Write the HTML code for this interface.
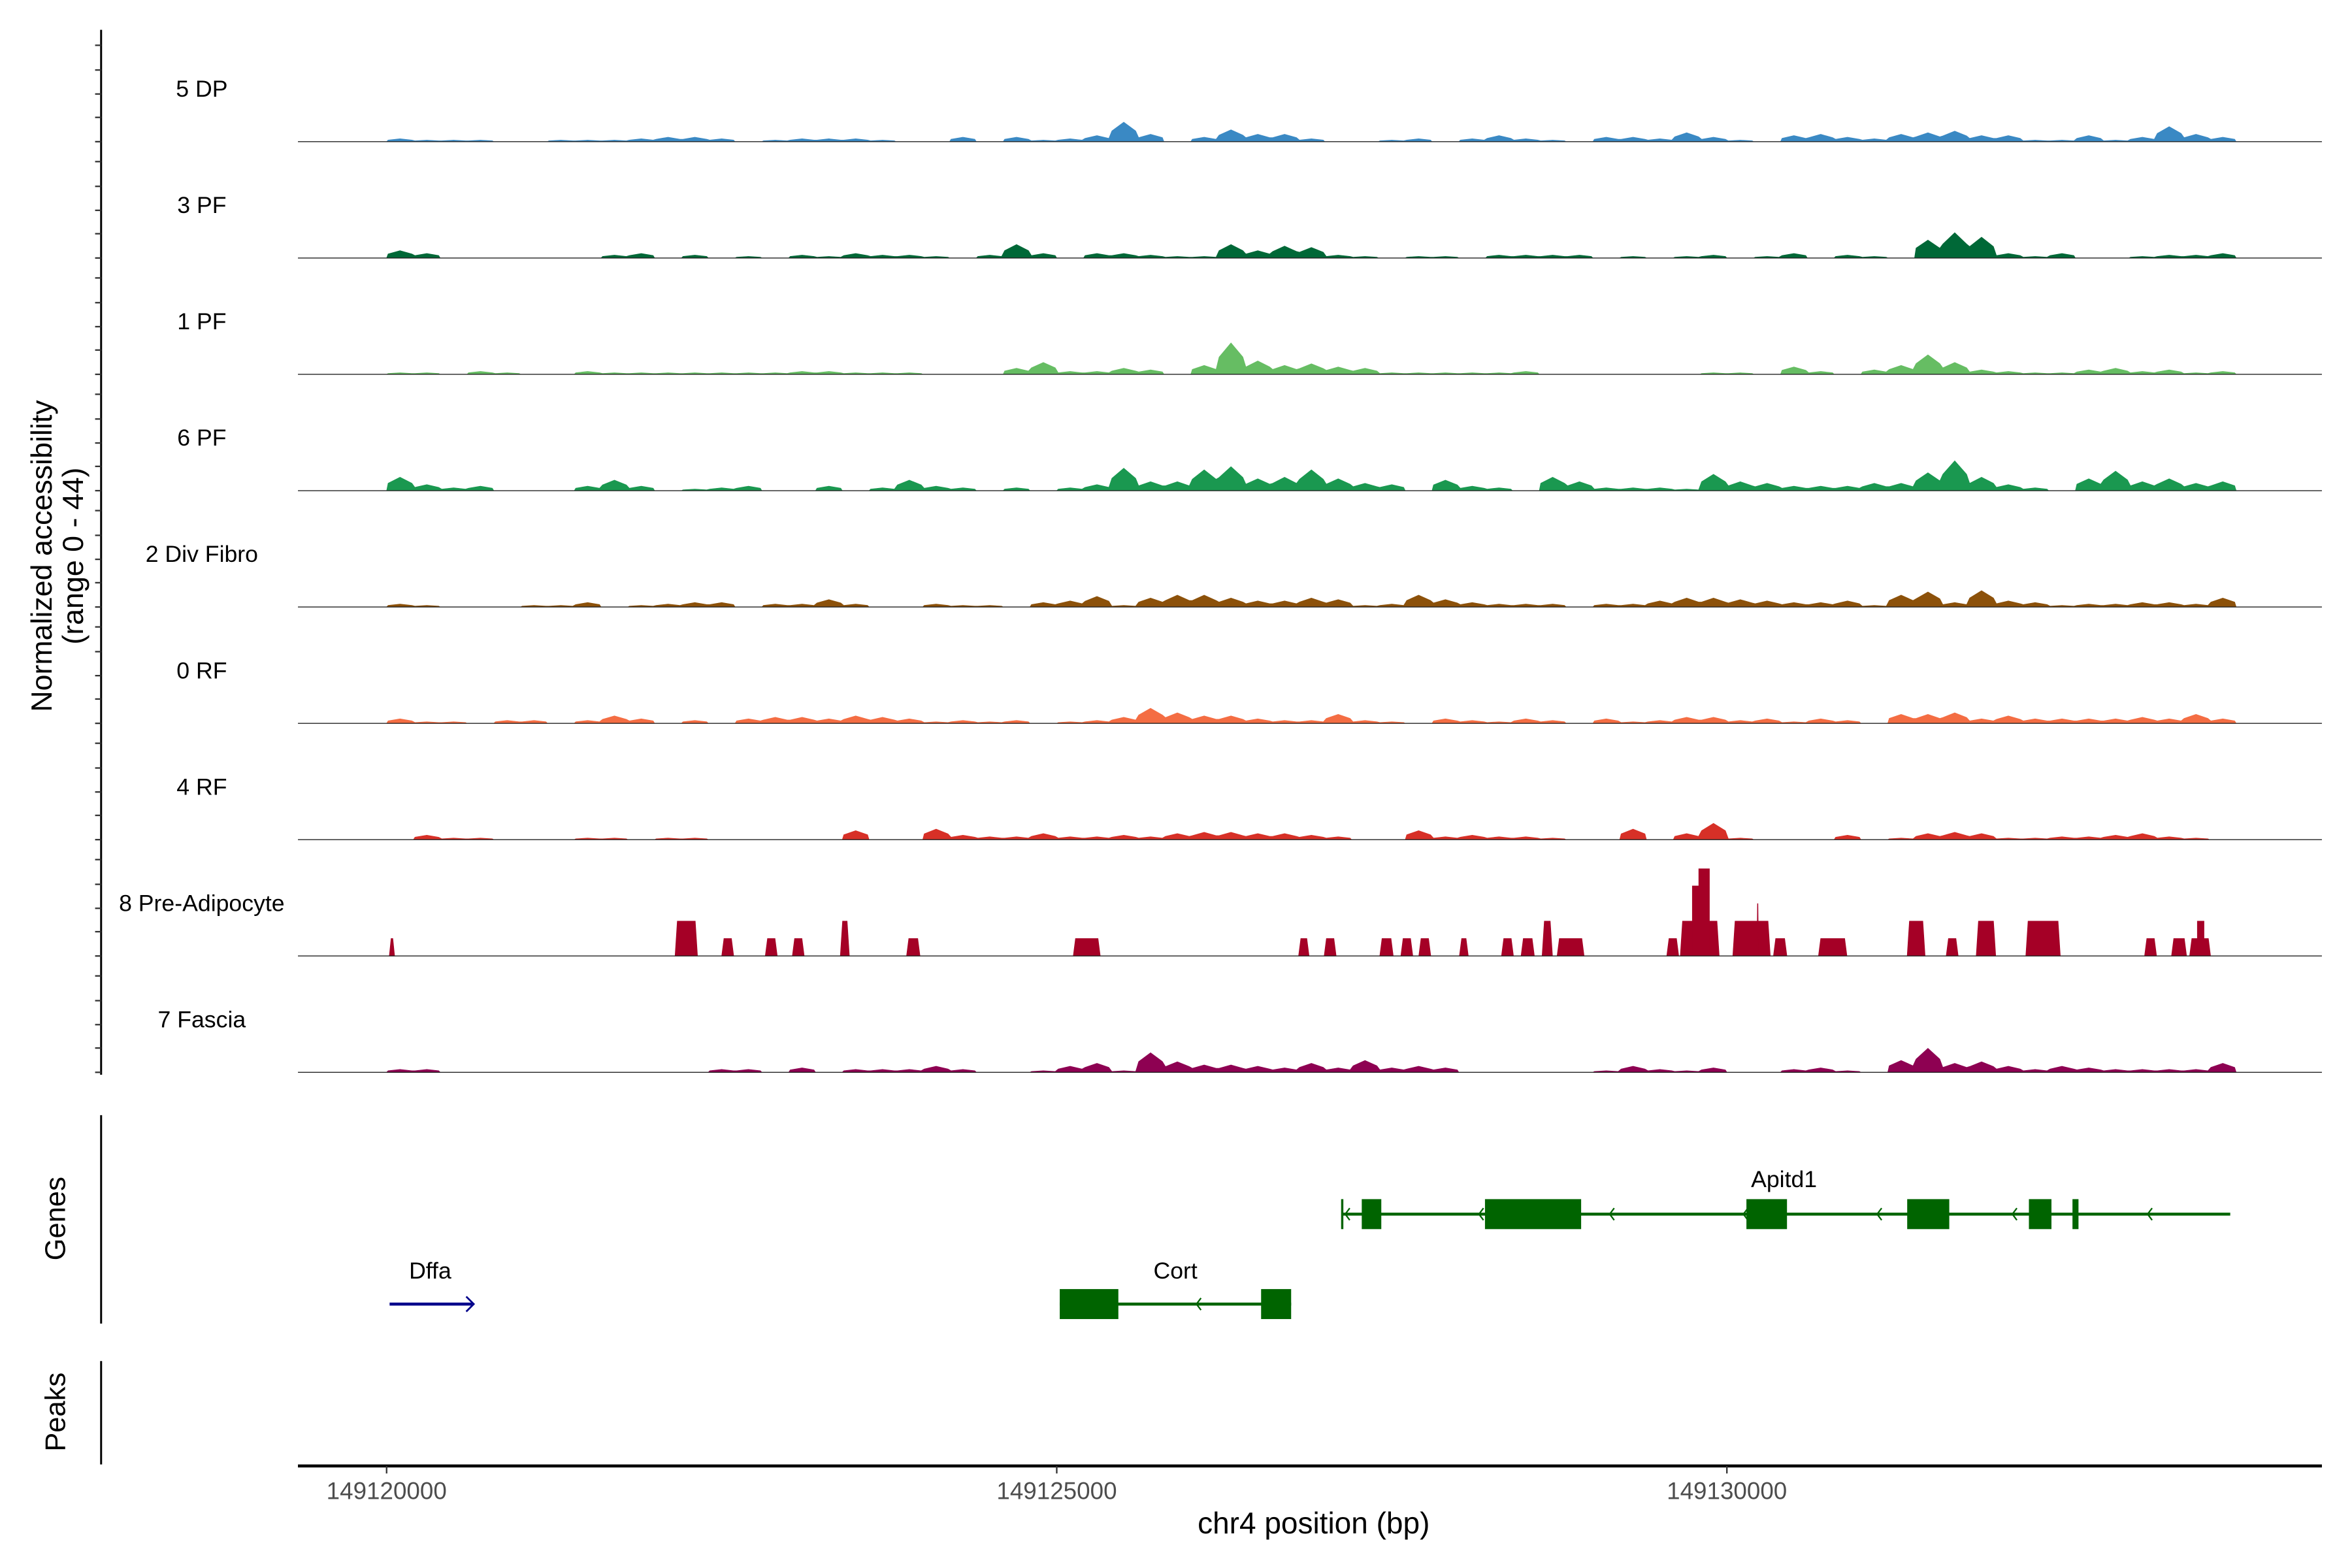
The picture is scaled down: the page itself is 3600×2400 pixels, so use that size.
<!DOCTYPE html>
<html><head><meta charset="utf-8"><style>html,body{margin:0;padding:0;background:#fff}svg{display:block}text{font-family:"Liberation Sans",Arial,sans-serif}</style></head>
<body>
<svg id="chart" xmlns="http://www.w3.org/2000/svg" width="3600" height="2400" viewBox="0 0 1560 1040">
<rect x="0" y="0" width="1560" height="1040" fill="#fff"/>
<g transform="matrix(0.9966,0,0,0.9943,-1.7,0.9)">
<g id="tracks"></g>
<g id="genes"></g>
<g id="axes"></g>
<text transform="translate(36,370) rotate(-90)" text-anchor="middle" font-size="19.5">Normalized accessibility</text>
<text transform="translate(57,370) rotate(-90)" text-anchor="middle" font-size="19.5">(range 0 - 44)</text>
<text transform="translate(45,812) rotate(-90)" text-anchor="middle" font-size="19">Genes</text>
<text transform="translate(45,941) rotate(-90)" text-anchor="middle" font-size="19">Peaks</text>
<text x="876" y="1022" text-anchor="middle" font-size="20">chr4 position (bp)</text>
</g>
</svg>
<script>
const regionStart = 149120000;
const binSize = 200;
const yMax = 44;
const trackNames = ["5 DP","3 PF","1 PF","6 PF","2 Div Fibro","0 RF","4 RF","8 Pre-Adipocyte","7 Fascia"];
const trackColors = ["#3a89c4","#006837","#66bd63","#1a9850","#8c510a","#f46d43","#d73027","#a50026","#8e0152"];
const cov5DP = [1.1,.6,.6,.6,0,0,.6,.6,.6,1.1,1.7,1.7,1.1,0,.6,1.1,1.1,1.1,.6,0,0,1.7,0,1.7,.6,1.1,2.3,7.4,2.8,0,1.7,4.5,2.8,2.8,1.1,0,0,.6,1.1,0,1.1,2.3,1.1,.6,0,1.7,1.7,1.1,3.4,1.7,.6,0,2.3,2.8,1.7,1.1,2.8,3.4,4,2.3,2.3,.6,.6,2.3,.6,1.7,5.7,2.8,1.7];
const cov3PF = [2.8,1.7,0,0,0,0,0,0,1.1,1.7,0,1.1,0,.6,0,1.1,.6,1.7,1.1,1.1,.6,0,1.1,5.1,1.7,0,1.7,1.7,1.1,.6,.6,5.1,2.8,4.5,4,1.1,.6,0,.6,.6,0,1.1,1.1,1.1,1.1,0,.6,0,.6,1.1,0,.6,1.7,0,1.1,.6,0,6.8,9.6,7.9,1.7,.6,1.7,0,0,.6,1.1,1.1,1.7];
const cov1PF = [.6,.6,0,1.1,.6,0,0,1.1,.6,.6,.6,.6,.6,.6,.6,1.1,1.1,.6,.6,.6,0,0,0,2.3,4.5,1.1,1.1,2.3,1.7,0,3.4,11.9,5.1,3.4,4,2.8,2.3,.6,.6,.6,.6,.6,1.1,0,0,0,0,0,0,.6,.6,0,2.8,1.1,0,1.7,3.4,7.4,4.5,1.7,1.1,.6,.6,1.7,2.3,1.1,1.7,.6,1.1];
const cov6PF = [5.1,2.3,1.1,1.7,0,0,0,1.7,4,1.7,0,.6,1.1,1.7,0,0,1.7,0,1.1,4,1.7,1.1,0,1.1,0,1.1,2.3,8.5,3.4,3.4,7.9,9.1,4.5,5.1,7.9,4.5,2.8,2.3,0,4,1.7,1.1,0,5.1,3.4,1.1,1.1,1.1,.6,6.2,3.4,2.8,1.7,1.7,1.7,2.8,2.8,6.8,11.3,5.1,2.3,1.1,0,4.5,7.4,3.4,4.5,2.8,3.4];
const cov2DivFibro = [1.1,.6,0,0,0,.6,.6,1.7,0,.6,1.1,1.7,1.7,0,1.1,1.1,2.8,1.1,0,0,1.1,.6,.6,0,1.7,2.3,4,.6,3.4,4.5,4.5,3.4,2.3,2.3,3.4,2.8,.6,1.1,4.5,2.8,1.7,1.1,1.1,1.1,0,1.1,1.1,2.3,3.4,3.4,2.8,2.3,1.7,1.7,2.3,.6,4.5,5.7,1.7,6.2,2.3,1.7,.6,1.1,1.1,1.7,1.7,1.1,3.4];
const cov0RF = [1.7,.6,.6,0,1.1,1.1,0,1.1,2.8,1.7,0,1.1,0,1.7,2.3,2.3,1.7,2.8,2.3,1.7,.6,1.1,.6,1.1,0,.6,1.1,2.3,5.7,4,2.8,2.8,1.7,1.1,1.1,3.4,1.1,.6,0,1.7,1.1,.6,1.7,1.1,0,1.7,.6,1.1,2.3,2.3,1.1,1.7,.6,1.7,1.1,0,3.4,3.4,4,1.7,2.8,1.7,1.7,1.7,1.7,2.3,1.7,3.4,1.7];
const cov4RF = [0,1.7,.6,.6,0,0,0,.6,.6,0,.6,.6,0,0,0,0,0,3.4,0,0,4,1.7,1.1,1.1,2.3,1.1,1.1,1.7,1.1,2.3,2.8,2.8,2.3,2.3,1.7,1.1,0,0,3.4,1.1,1.7,1.1,1.1,.6,0,0,4,0,2.3,6.2,.6,0,0,0,1.7,0,.6,2.3,2.8,2.3,.6,.6,1.1,1.1,1.7,2.3,1.1,.6,0];
const cov7Fascia = [1.1,1.1,0,0,0,0,0,0,0,0,0,0,1.1,1.1,0,1.7,0,1.1,1.1,1.1,2.3,1.1,0,0,.6,2.3,3.4,.6,7.4,4,2.8,2.8,2.3,1.7,3.4,1.7,4.5,1.7,2.3,1.7,0,0,0,0,0,.6,2.3,1.1,.6,1.7,0,0,1.1,1.7,.6,0,4.5,9.1,3.4,4,2.3,1.1,2.3,1.7,1.1,1.1,1.1,1.1,3.4];
const preAdipoStarts = [149120020,149122152,149122500,149122825,149123027,149123385,149123879,149125123,149126804,149126995,149127410,149127567,149127701,149128004,149128318,149128464,149128621,149128733,149129551,149129652,149129742,149129790,149129870,149130044,149130145,149130224,149130347,149130683,149131345,149131636,149131860,149132230,149133116,149133317,149133452,149133510,149133560];
const preAdipoEnds =   [149120060,149122320,149122590,149122915,149123116,149123453,149123980,149125325,149126883,149127085,149127511,149127657,149127791,149128071,149128408,149128564,149128699,149128935,149129641,149129742,149129790,149129870,149129943,149130145,149130324,149130236,149130448,149130896,149131479,149131726,149132006,149132488,149133206,149133430,149133510,149133560,149133609];
const preAdipoValues = [6.6,13.2,6.6,6.6,6.6,13.2,6.6,6.6,6.6,6.6,6.6,6.6,6.6,6.6,6.6,6.6,13.2,6.6,6.6,13.2,26.5,33,13.2,13.2,13.2,19.8,6.6,6.6,13.2,6.6,13.2,13.2,6.6,6.6,6.6,13.2,6.6];
const xTicks = [149120000,149125000,149130000];
const xTickLabels = ["149120000","149125000","149130000"];

const NS = "http://www.w3.org/2000/svg";
const X0 = 259, PX_PER_BP = 446/5000;
function xs(bp){ return X0 + (bp - regionStart) * PX_PER_BP; }
const TRACK_TOP = 16, TRACK_STEP = 77.6, TRACK_H = 77.6;
function baseY(i){ return TRACK_TOP + (i+1)*TRACK_STEP; }
function ys(v, i){ return baseY(i) - v / yMax * TRACK_H; }
function mk(tag, attrs, parent){ const e=document.createElementNS(NS,tag); for(const k in attrs) e.setAttribute(k,attrs[k]); parent.appendChild(e); return e; }

const covSeries = [cov5DP,cov3PF,cov1PF,cov6PF,cov2DivFibro,cov0RF,cov4RF,null,cov7Fascia];
const tracksG = document.getElementById('tracks');
trackNames.forEach((name, i) => {
  const g = mk('g', {}, tracksG);
  
  
  const b = baseY(i);
  const lab = mk('text', {x:136, y:b-30, 'text-anchor':'middle', 'font-size':15.5, fill:'#000'}, g);
  lab.textContent = name;
  
  
  let d = '';
  const vals = covSeries[i];
  if (vals) {
    d = 'M' + xs(regionStart).toFixed(2) + ',' + b;
    vals.forEach((v, k) => {
      const s = regionStart + k*binSize;
      const xa = xs(s), xm = xs(s + binSize/2), xb = xs(s + binSize);
      if (v === 0) { d += ' L' + xa.toFixed(2) + ',' + b + ' L' + xb.toFixed(2) + ',' + b; }
      else { d += ' L' + (xa+1).toFixed(2) + ',' + ys(v*0.55,i).toFixed(2) + ' L' + xm.toFixed(2) + ',' + ys(v,i).toFixed(2) + ' L' + (xb-1).toFixed(2) + ',' + ys(v*0.55,i).toFixed(2); }
    });
    d += ' L' + xs(regionStart + vals.length*binSize).toFixed(2) + ',' + b + ' Z';
  } else {
    preAdipoStarts.forEach((s, k) => {
      const xa = xs(s), xb = xs(preAdipoEnds[k]), yt = ys(preAdipoValues[k], i);
      const leftAdj = k > 0 && Math.abs(preAdipoEnds[k-1] - s) < 2;
      const rightAdj = k < preAdipoStarts.length-1 && Math.abs(preAdipoStarts[k+1] - preAdipoEnds[k]) < 2;
      const sl = Math.min(1.5, (xb-xa)/3);
      const sL = leftAdj ? 0 : sl, sR = rightAdj ? 0 : sl;
      d += 'M' + xa.toFixed(2) + ',' + b + ' L' + (xa+sL).toFixed(2) + ',' + yt.toFixed(2) + ' L' + (xb-sR).toFixed(2) + ',' + yt.toFixed(2) + ' L' + xb.toFixed(2) + ',' + b + ' Z ';
    });
  }
  const p = mk('path', {d:d, fill:trackColors[i], stroke:trackColors[i], 'stroke-width':0.3}, g);
  
  
  const bl = mk('line', {x1:200, x2:1547, y1:b, y2:b, stroke:'#222', 'stroke-width':0.6}, g);
  
  
});

// genes
const genesG = document.getElementById('genes');
const green = '#006400';
function exon(x1,x2,yc,parent){ const r=mk('rect',{x:x1,y:yc-10,width:x2-x1,height:20,fill:green},parent);   }
function chev(x,yc,parent){ mk('path',{d:`M${x+2},${yc-4} L${x-1},${yc} L${x+2},${yc+4}`,fill:'none',stroke:green,'stroke-width':1},parent); }
const apitd1 = mk('g',{},genesG);


mk('line',{x1:895,x2:1486,y1:809,y2:809,stroke:green,'stroke-width':2},apitd1);
mk('line',{x1:895,x2:895,y1:799,y2:819,stroke:green,'stroke-width':1.5},apitd1);
[[908,921],[990,1054],[1164,1191],[1271,1299],[1352,1367],[1381,1385]].forEach(e=>exon(e[0],e[1],809,apitd1));
[898,987,1074,1163,1252,1342,1432].forEach(x=>chev(x,809,apitd1));
const t1 = mk('text',{x:1189,y:791,'text-anchor':'middle','font-size':15.5},apitd1); t1.textContent='Apitd1';
const cort = mk('g',{},genesG);


mk('line',{x1:707,x2:861,y1:869,y2:869,stroke:green,'stroke-width':2},cort);
[[707,746],[841,861]].forEach(e=>exon(e[0],e[1],869,cort));
chev(799,869,cort);
const t2 = mk('text',{x:784,y:852,'text-anchor':'middle','font-size':15.5},cort); t2.textContent='Cort';
const dffa = mk('g',{},genesG);


mk('line',{x1:261,x2:316,y1:869,y2:869,stroke:'#00008b','stroke-width':2},dffa);
mk('path',{d:'M312,864 L317,869 L312,874',fill:'none',stroke:'#00008b','stroke-width':1.2},dffa);
const t3 = mk('text',{x:288,y:852,'text-anchor':'middle','font-size':15.5},dffa); t3.textContent='Dffa';

// axes
const axesG = document.getElementById('axes');
const ya = mk('line',{x1:69,x2:69,y1:19,y2:716,stroke:'#000','stroke-width':1.3},axesG);
 
const tickOffsets = [64.3,47.8,31.8,16.2,0];
trackNames.forEach((n,i)=>{ tickOffsets.forEach(o=>{ const yy=baseY(i)-o; mk('line',{x1:65,x2:69,y1:yy,y2:yy,stroke:'#333','stroke-width':1},axesG); }); });
const ga = mk('line',{x1:69,x2:69,y1:743,y2:882,stroke:'#000','stroke-width':1.3},axesG);
 
const pa = mk('line',{x1:69,x2:69,y1:907,y2:976,stroke:'#000','stroke-width':1.3},axesG);
 
const xa = mk('line',{x1:200,x2:1547,y1:977,y2:977,stroke:'#000','stroke-width':2},axesG);
 
xTicks.forEach((t,k)=>{
  const x = xs(t);
  const tk = mk('line',{x1:x,x2:x,y1:977,y2:982,stroke:'#333','stroke-width':1},axesG);
   
  const tl = mk('text',{x:x,y:999,'text-anchor':'middle','font-size':16,fill:'#4d4d4d'},axesG);
  tl.textContent = xTickLabels[k];
   
});
</script>
</body></html>
